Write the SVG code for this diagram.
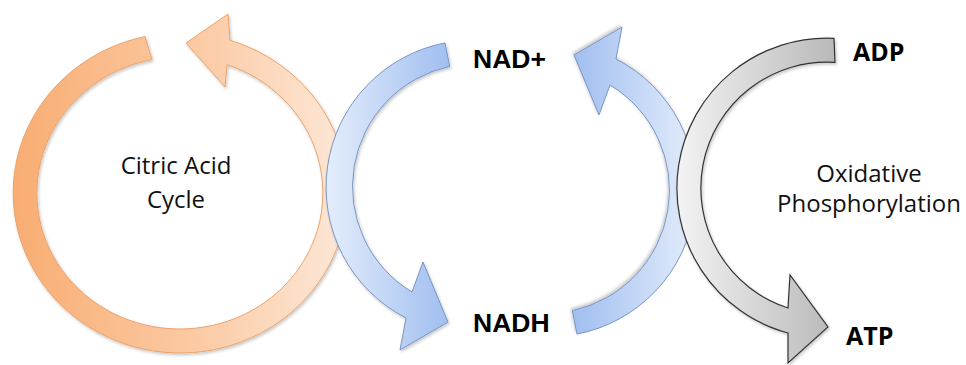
<svg xmlns="http://www.w3.org/2000/svg" width="966" height="365" viewBox="0 0 966 365">
  <defs>
    <linearGradient id="gradOrange" x1="0" y1="0" x2="1" y2="0">
      <stop offset="0" stop-color="#F8AD72"/>
      <stop offset="0.55" stop-color="#FBCAA4"/>
      <stop offset="1" stop-color="#FDE8D8"/>
    </linearGradient>
    <linearGradient id="gradBlue" x1="0" y1="0" x2="1" y2="0">
      <stop offset="0" stop-color="#E4EDFB"/>
      <stop offset="1" stop-color="#A0BEF0"/>
    </linearGradient>
    <linearGradient id="gradGray" x1="0" y1="0" x2="1" y2="0">
      <stop offset="0" stop-color="#F3F3F3"/>
      <stop offset="1" stop-color="#B9B9B9"/>
    </linearGradient>
    <filter id="soft" x="-10%" y="-10%" width="120%" height="120%">
      <feDropShadow dx="1.2" dy="1.8" stdDeviation="1.4" flood-color="#000" flood-opacity="0.22"/>
    </filter>
  </defs>
  <style>
    .arrow { filter: url(#soft); stroke-linejoin: miter; }
    .orange { fill: url(#gradOrange); stroke: #EBA36C; stroke-width: 1; }
    .blue { fill: url(#gradBlue); stroke: #7795C6; stroke-width: 1; }
    .gray { fill: url(#gradGray); stroke: #333333; stroke-width: 1.2; }
    .label { font-family: "Open Sans", "Liberation Sans", sans-serif; font-size: 24px; fill: #111; text-anchor: middle; }
    .chem { font-family: "Liberation Sans", Arial, sans-serif; font-weight: bold; font-size: 26.5px; fill: #000; }
    .chem2 { font-family: "Open Sans", "Liberation Sans", sans-serif; font-weight: bold; font-size: 25px; fill: #000; }
  </style>

  <rect width="966" height="365" fill="#FFFFFF"/>

  <g id="connectors">
    <!-- citric acid cycle loop -->
    <path class="arrow orange" d="M145,36.6 A167,160 0 1 0 230,40.3 L228,14 L186,43 L225,87 L227,64.6 A143,136 0 1 1 152,59.6 Z"/>
    <!-- NAD+ to NADH -->
    <path class="arrow blue" d="M445,42.9 A147,147 0 0 0 406,318 L400,350 L448,322 L423,262 L412,292 A123,123 0 0 1 449.7,66.4 Z"/>
    <!-- NADH back to NAD+ -->
    <path class="arrow blue" transform="rotate(180 511 188.5)" d="M445,42.9 A147,147 0 0 0 406,318 L400,350 L448,322 L423,262 L412,292 A123,123 0 0 1 449.7,66.4 Z"/>
    <!-- ADP to ATP -->
    <path class="arrow gray" d="M834,38.3 A150,150 0 0 0 788,333 L788,363 L828,327 L790,275 L788,308 A126,126 0 0 1 835,62.4 Z"/>
  </g>

  <g id="citric-acid-cycle">
    <text class="label" x="176" y="174">Citric Acid</text>
    <text class="label" x="176" y="208">Cycle</text>
  </g>
  <g id="nad-plus">
    <text class="chem" x="473" y="68">NAD+</text>
  </g>
  <g id="nadh">
    <text class="chem" x="473" y="332">NADH</text>
  </g>
  <g id="adp">
    <text class="chem2" x="853" y="61">ADP</text>
  </g>
  <g id="atp">
    <text class="chem2" x="846" y="345">ATP</text>
  </g>
  <g id="oxidative-phosphorylation">
    <text class="label" x="869" y="182">Oxidative</text>
    <text class="label" x="869" y="212">Phosphorylation</text>
  </g>
</svg>
